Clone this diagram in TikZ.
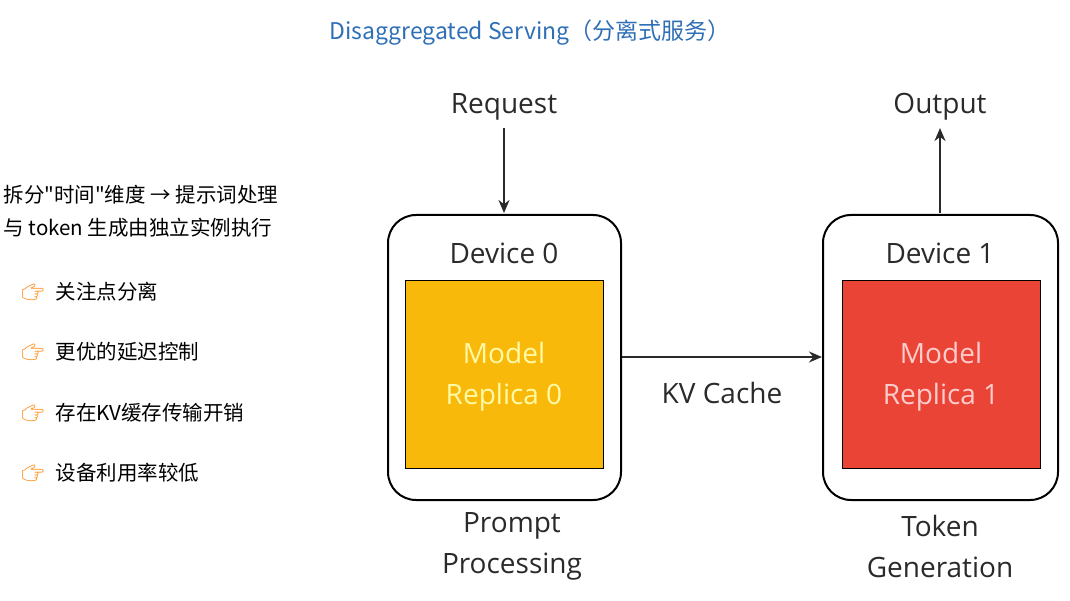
\documentclass[tikz,border=0pt]{standalone}
\usepackage{fontspec}
\setmainfont{Open Sans}
\newfontfamily\cjk{Noto Sans CJK SC}
\newfontfamily\emo{Noto Emoji}
\usetikzlibrary{arrows.meta}
\definecolor{ttl}{HTML}{2F6FB5}
\definecolor{yel}{HTML}{F9B90A}
\definecolor{red1}{HTML}{E94436}
\definecolor{txt}{HTML}{2A2A2A}
\begin{document}
\begin{tikzpicture}[x=1pt,y=-1pt,
 dev/.style={draw=black,line width=2pt,rounded corners=28pt},
 lab/.style={font=\fontsize{28}{32}\selectfont,text=txt},
 inner/.style={font=\fontsize{28}{41}\selectfont,align=center},
 arr/.style={-{Stealth[length=13pt,width=11pt]},line width=2pt,draw=txt},
 side/.style={font=\cjk\fontsize{20.5}{27}\selectfont,anchor=west,text=black},
 hand/.style={font=\emo\fontsize{18}{20}\selectfont,text=orange,anchor=west}]
\useasboundingbox (0,0) rectangle (1070,601);
\node[font=\cjk\fontsize{23}{26}\selectfont,text=ttl] (title) at (530,33) {Disaggregated Serving（分离式服务）};
\draw[dev] (388,215) rectangle (621,500);
\draw[dev] (823,215) rectangle (1058,500);
\node[lab] (d0) at (504,253) {Device 0};
\node[lab] (d1) at (940,253) {Device 1};
\node[fill=yel,draw=black,line width=1pt,minimum width=198pt,minimum height=187pt,inner sep=0pt] (m0) at (504,374.5) {};
\node[inner,text=yellow!35] at (376,377) {};
\node[inner,text=yellow!35] at (504,377) {Model\\Replica 0};
\node[fill=red1,draw=black,line width=1pt,minimum width=198pt,minimum height=187pt,inner sep=0pt] (m1) at (941,374.5) {};
\node[inner,text=red!20] at (941,377) {Model\\Replica 1};
\node[lab] (req) at (504,107) {Request};
\node[lab] (out) at (940,107) {Output};
\coordinate (d0top) at (504,213);
\coordinate (d1top) at (940,213);
\draw[arr] (req.south)++(0,4) -- (d0top);
\draw[arr] (d1top) -- ([yshift=-4pt]out.south);
\coordinate (kvA) at (622,357);
\coordinate (kvB) at (822,357);
\draw[arr] (kvA) -- (kvB);
\node[lab] (kv) at (722,393) {KV Cache};
\node[lab,align=center,font=\fontsize{28}{41}\selectfont] (pp) at (512,546) {Prompt\\Processing};
\node[lab,align=center,font=\fontsize{28}{41}\selectfont] (tg) at (940,546) {Token\\Generation};
\node[side] (s1) at (0,195) {拆分"时间"维度 → 提示词处理};
\node[side] (s2) at (0,228) {与 token 生成由独立实例执行};
\foreach \y/\t/\n in {292/关注点分离/a,352/更优的延迟控制/b,413/存在KV缓存传输开销/c,473/设备利用率较低/d}{
 \node[hand] (h\n) at (18,\y) {👉};
 \node[side] (t\n) at (52,\y) {\t};
}
\end{tikzpicture}
\end{document}
